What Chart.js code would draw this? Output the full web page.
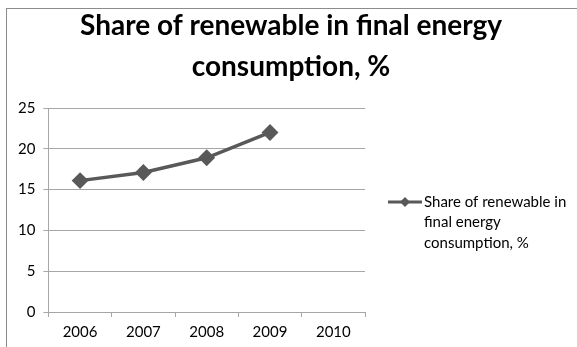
<!DOCTYPE html>
<html>
<head>
<meta charset="utf-8">
<script src="https://cdn.jsdelivr.net/npm/chart.js@4"></script>
<style>
  html, body { margin: 0; padding: 0; background: #fff; }
  #wrap { width: 577px; height: 347px; position: relative; }
</style>
</head>
<body>
<div id="wrap"><canvas id="chart" width="577" height="347"></canvas></div>
<script>
const years = ["2006", "2007", "2008", "2009", "2010"];
const shareValues = [16.1, 17.1, 18.9, 22.0, null];
const seriesName = "Share of renewable in final energy consumption, %";
const titleLines = ["Share of renewable in final energy", "consumption, %"];
const legendLines = ["Share of renewable in", "final energy", "consumption, %"];

const lineColor = "#595959";
const gridColor = "#a6a6a6";
const font = "Lato, 'Open Sans', sans-serif";

// frame, title (centred on the whole object) and the wrapped legend
const framePlugin = {
  id: "frame",
  beforeDraw(chart) {
    const ctx = chart.ctx;
    ctx.save();
    ctx.fillStyle = "#fff";
    ctx.fillRect(0, 0, chart.width, chart.height);
    ctx.strokeStyle = "#8c8c8c";
    ctx.lineWidth = 1;
    ctx.strokeRect(6.5, 8.5, 700, 500);
    ctx.fillStyle = "#000";
    ctx.font = "bold 28px " + font;
    ctx.textAlign = "center";
    ctx.textBaseline = "alphabetic";
    ctx.fillText(titleLines[0], 291, 35);
    ctx.fillText(titleLines[1], 291, 76);
    ctx.restore();
  },
  afterDraw(chart) {
    const ctx = chart.ctx;
    const x0 = 388, y0 = 202;
    ctx.save();
    ctx.strokeStyle = lineColor;
    ctx.lineWidth = 3;
    ctx.beginPath();
    ctx.moveTo(x0, y0);
    ctx.lineTo(x0 + 34, y0);
    ctx.stroke();
    ctx.fillStyle = lineColor;
    ctx.beginPath();
    ctx.moveTo(x0 + 17, y0 - 5);
    ctx.lineTo(x0 + 22, y0);
    ctx.lineTo(x0 + 17, y0 + 5);
    ctx.lineTo(x0 + 12, y0);
    ctx.closePath();
    ctx.fill();
    ctx.fillStyle = "#000";
    ctx.font = "15px " + font;
    ctx.textBaseline = "middle";
    legendLines.forEach((t, i) => ctx.fillText(t, x0 + 36, y0 + i * 20.5));
    ctx.restore();
  }
};

new Chart(document.getElementById("chart"), {
  type: "line",
  data: {
    labels: years,
    datasets: [{
      label: seriesName,
      data: shareValues,
      borderColor: lineColor,
      backgroundColor: lineColor,
      borderWidth: 3.5,
      pointStyle: "rectRot",
      pointRadius: 6,
      pointHoverRadius: 6,
      tension: 0
    }]
  },
  options: {
    responsive: false,
    animation: false,
    layout: { padding: { left: 10, right: 212, top: 108, bottom: 0 } },
    plugins: {
      legend: { display: false },
      tooltip: { enabled: false },
      title: { display: false }
    },
    scales: {
      x: {
        offset: true,
        grid: {
          offset: true,
          drawOnChartArea: false,
          drawTicks: true,
          tickLength: 5,
          color: gridColor
        },
        border: { color: gridColor },
        ticks: { color: "#000", font: { family: font, size: 15 }, padding: 6 }
      },
      y: {
        min: 0,
        max: 25,
        ticks: { stepSize: 5, color: "#000", font: { family: font, size: 15 }, padding: 8 },
        grid: { color: gridColor, tickLength: 5 },
        border: { color: gridColor }
      }
    }
  },
  plugins: [framePlugin]
});
</script>
</body>
</html>
